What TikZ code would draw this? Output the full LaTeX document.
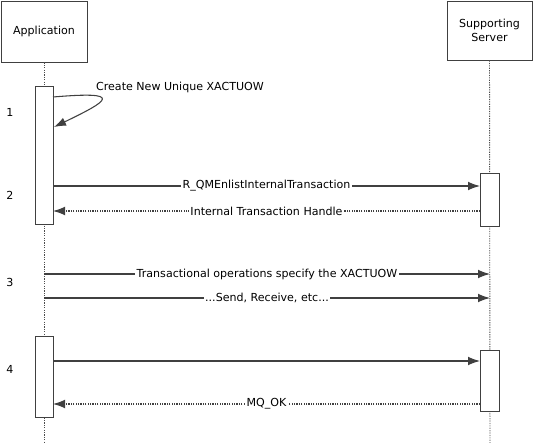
\documentclass[tikz,border=0pt]{standalone}
\usepackage{fontspec}
\setmainfont{DejaVu Sans}
\usepackage{tikz}
\usetikzlibrary{arrows.meta}

\tikzset{
  headbox/.style={draw=black!75, line width=0.7pt, fill=white, align=center, inner sep=0pt},
  actbox/.style={draw=black!75, line width=0.7pt, fill=white},
  lifeline/.style={draw=black!70, dash pattern=on 0.9pt off 0.9pt, line width=0.7pt},
  msg/.style={draw=black!75, line width=0.8pt, -{Latex[length=9pt,width=6.5pt]}},
  reply/.style={msg, dash pattern=on 0.9pt off 0.9pt},
  msglabel/.style={fill=white, inner sep=1pt}
}

\begin{document}
\begin{tikzpicture}[x=0.75pt, y=-0.75pt, font=\fontsize{8.3}{10}\selectfont]
	\useasboundingbox (0,0) rectangle (533,443);
	%%% participants
	\node[headbox, minimum width=64.5pt, minimum height=45.75pt] (app) at (44,31.5) {Application};
	\node[headbox, minimum width=63.75pt, minimum height=44.25pt] (srv) at (489.5,30.5) {Supporting\\Server};
	\coordinate (append) at (44,443);
	\coordinate (srvend) at (490,443);
	\draw[lifeline] (app.south) -- (append);
	\draw[lifeline] (srv.south) -- (srvend);
	
	%%% activations
	\draw[actbox] (35,86) rectangle (53,224);
	\draw[actbox] (480,173) rectangle (499,226);
	\draw[actbox] (35,336) rectangle (53,417);
	\draw[actbox] (480,350) rectangle (499,411);
	
	%%% step numbers
	\node(n1) at (10,112) {1};
	\node(n2) at (10,195) {2};
	\node(n3) at (10,282) {3};
	\node(n4) at (10,369) {4};
	
	%%% 1
	\coordinate (s1) at (53,97);
	\coordinate (e1) at (54,127);
	\draw[msg] (s1) .. controls (124,91) and (110,100) .. (e1);
	\node(l1) at (180,87) {Create New Unique XACTUOW};
	
	%%% 2
	\coordinate (s2) at (53,186);
	\coordinate (e2) at (480,186);
	\draw[msg] (s2) -- node[msglabel] (l2) {R\_QMEnlistInternalTransaction} (e2);
	\coordinate (s2r) at (480,211);
	\coordinate (e2r) at (53,211);
	\draw[reply] (s2r) -- node[msglabel] (l2r) {Internal Transaction Handle} (e2r);
	
	%%% 3
	\coordinate (s3) at (44,274);
	\coordinate (e3) at (490,274);
	\draw[msg] (s3) -- node[msglabel] (l3) {Transactional operations specify the XACTUOW} (e3);
	\coordinate (s3b) at (44,298);
	\coordinate (e3b) at (490,298);
	\draw[msg] (s3b) -- node[msglabel] (l3b) {...Send, Receive, etc...} (e3b);
	
	%%% 4
	\coordinate (s4) at (53,361);
	\coordinate (e4) at (480,361);
	\draw[msg] (s4) -- (e4);
	\coordinate (s4r) at (480,404);
	\coordinate (e4r) at (53,404);
	\draw[reply] (s4r) -- node[msglabel] (l4r) {MQ\_OK} (e4r);
\end{tikzpicture}
\end{document}
